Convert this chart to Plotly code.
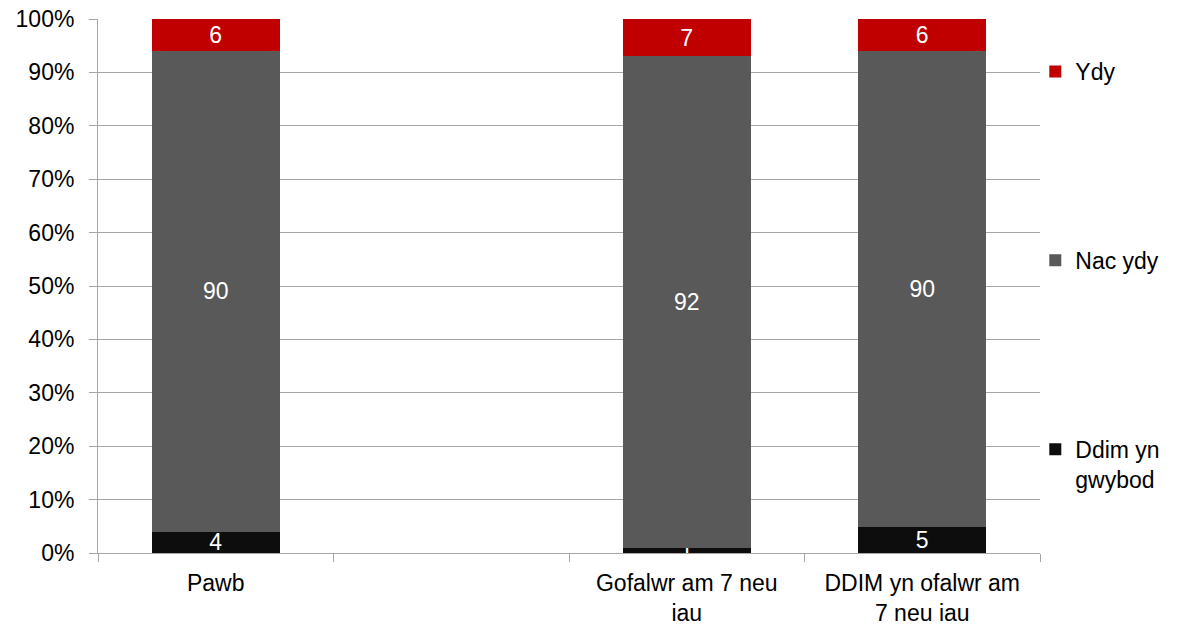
import plotly.graph_objects as go

categories = ["Pawb", " ", "Gofalwr am 7 neu<br>iau", "DDIM yn ofalwr am<br>7 neu iau"]
ddim = [4, None, 1, 5]
nac = [90, None, 92, 90]
ydy = [6, None, 7, 6]

series = [
    ("Ddim yn<br>gwybod", ddim, "#0D0D0D", 3),
    ("Nac ydy", nac, "#595959", 2),
    ("Ydy", ydy, "#C00000", 1),
]

FONT = "Liberation Sans, Arial, sans-serif"
fig = go.Figure()
for i, (name, vals, col, rank) in enumerate(series):
    fig.add_trace(go.Bar(
        x=categories, y=vals, name=name, legendgroup=str(i), legendrank=rank,
        marker=dict(color=col, line=dict(width=0)),
        text=[("" if v is None else str(v)) for v in vals],
        textposition="inside", insidetextanchor="middle", textangle=0,
        textfont=dict(color="white", size=23, family=FONT),
        width=0.545,
    ))

fig.update_layout(
    barmode="stack", barnorm="percent",
    width=1178, height=626,
    margin=dict(l=98, r=138, t=19, b=73, autoexpand=False),
    paper_bgcolor="white", plot_bgcolor="white",
    font=dict(family=FONT, size=23, color="#000000"),
    uniformtext=dict(minsize=23, mode="show"),
    showlegend=True,
    legend=dict(
        x=0.995, xanchor="left", y=0.942, yanchor="top",
        traceorder="grouped", tracegroupgap=156,
        valign="top", font=dict(size=23, family=FONT),
        bgcolor="rgba(0,0,0,0)",
    ),
)
fig.update_xaxes(
    type="category", categoryorder="array", categoryarray=categories,
    tickson="boundaries", ticks="outside", ticklen=8, tickcolor="#A6A6A6",
    showline=True, linecolor="#A6A6A6", linewidth=1,
    showgrid=False, tickfont=dict(size=23, family=FONT),
    ticklabelstandoff=9, automargin=False,
)
fig.update_yaxes(
    range=[0, 100], tickvals=[0, 10, 20, 30, 40, 50, 60, 70, 80, 90, 100],
    ticktext=["0%", "10%", "20%", "30%", "40%", "50%", "60%", "70%", "80%", "90%", "100%"],
    ticks="outside", ticklen=8, tickcolor="#A6A6A6",
    showline=True, linecolor="#A6A6A6", linewidth=1,
    showgrid=True, gridcolor="#A6A6A6", gridwidth=1,
    zeroline=False, tickfont=dict(size=23, family=FONT),
    ticklabelstandoff=10, automargin=False,
)
fig.write_html("out.html", config={"displayModeBar": False},
               post_script="document.body.style.margin='0px';")
